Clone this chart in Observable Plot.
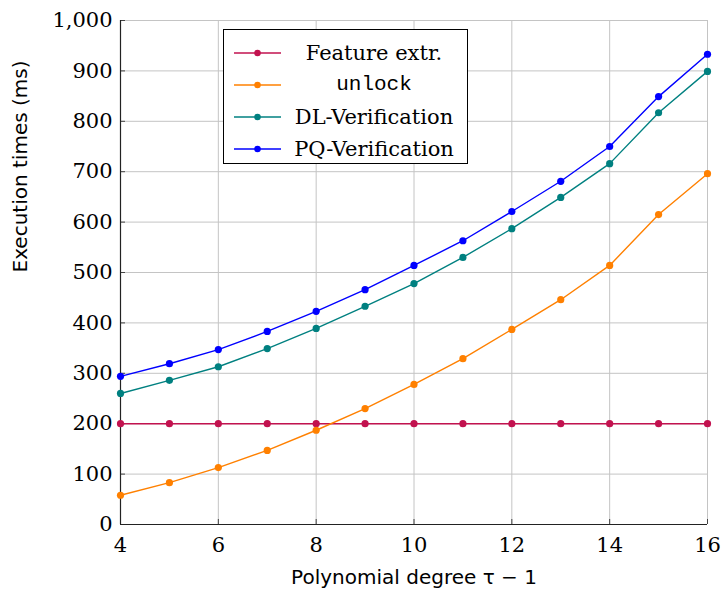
<!DOCTYPE html>
<html><head><meta charset="utf-8">
<script src="https://cdn.jsdelivr.net/npm/d3@7"></script>
<script src="https://cdn.jsdelivr.net/npm/@observablehq/plot@0.6"></script>
<style>
body{margin:0;background:#fff}
#wrap{position:relative;width:724px;height:598px}
#legend{position:absolute;left:223px;top:29px;width:245px;height:135px;border:1.3px solid #000;background:#fff;box-sizing:border-box}
.row{position:absolute;left:0;width:100%;height:0}
.row svg{position:absolute;left:9px;top:-6px}
.row span{position:absolute;left:64px;width:172px;text-align:center;top:-14px;line-height:28px;font-family:"DejaVu Serif";font-size:21px;color:#000;white-space:nowrap}
.row span.mono{font-family:"Liberation Mono";font-size:21px}
</style></head>
<body><div id="wrap"><div id="chart"></div><div id="legend"></div></div>
<script>
const degrees = [4, 5, 6, 7, 8, 9, 10, 11, 12, 13, 14, 15, 16];
const featureExtr = [200, 200, 200, 200, 200, 200, 200, 200, 200, 200, 200, 200, 200];
const unlock = [58, 83, 113, 147, 187, 230, 278, 329, 387, 446, 514, 615, 696];
const dlVerification = [260, 286, 313, 349, 389, 433, 478, 530, 587, 649, 716, 817, 899];
const pqVerification = [294, 319, 347, 383, 423, 466, 514, 563, 621, 681, 750, 849, 933];
const seriesNames = ["Feature extr.", "unlock", "DL-Verification", "PQ-Verification"];
const seriesColors = ["#c2124f", "#ff8000", "#008080", "#0000ff"];
const xTicks = [4, 6, 8, 10, 12, 14, 16];
const yTicks = [0, 100, 200, 300, 400, 500, 600, 700, 800, 900, 1000];
const xLabel = "Polynomial degree τ − 1";
const yLabel = "Execution times (ms)";

const seriesValues = [featureExtr, unlock, dlVerification, pqVerification];
const rows = seriesNames.flatMap((s, i) => degrees.map((d, j) => ({series: s, degree: d, value: seriesValues[i][j]})));

const chart = Plot.plot({
  width: 724, height: 598,
  marginLeft: 120, marginRight: 17, marginTop: 20, marginBottom: 74,
  x: {domain: [4, 16]},
  y: {domain: [0, 1000]},
  color: {domain: seriesNames, range: seriesColors},
  style: {fontFamily: "DejaVu Serif", fontSize: "21px", color: "#000", background: "#fff", overflow: "visible"},
  marks: [
    Plot.gridX(xTicks, {stroke: "#c4c4c4", strokeOpacity: 1, strokeWidth: 1}),
    Plot.gridY(yTicks, {stroke: "#c4c4c4", strokeOpacity: 1, strokeWidth: 1}),
    Plot.axisX(xTicks, {tickSize: 0, tickPadding: 13, label: null, tickFormat: d => String(d), fill: "#000"}),
    Plot.axisY(yTicks, {tickSize: 0, tickPadding: 8, label: null, tickFormat: d3.format(","), fill: "#000"}),
    Plot.axisX(xTicks, {tickSize: -5, tickPadding: 0, label: null, tickFormat: () => "", stroke: "#444"}),
    Plot.axisY(yTicks, {tickSize: -5, tickPadding: 0, label: null, tickFormat: () => "", stroke: "#444"}),
    Plot.ruleX([4], {stroke: "#222", strokeWidth: 1.2}),
    Plot.ruleY([0], {stroke: "#222", strokeWidth: 1.2}),
    Plot.line(rows, {x: "degree", y: "value", stroke: "series", strokeWidth: 1.4}),
    Plot.dot(rows, {x: "degree", y: "value", fill: "series", r: 3.6}),
    Plot.text([xLabel], {frameAnchor: "bottom", dy: 59, fontFamily: "DejaVu Sans", fontSize: 20, fill: "#000"}),
    Plot.text([yLabel], {frameAnchor: "left", rotate: -90, dx: -100, fontFamily: "DejaVu Sans", fontSize: 20, fill: "#000"})
  ]
});
document.getElementById("chart").append(chart);

const legend = document.getElementById("legend");
seriesNames.forEach((name, i) => {
  const row = document.createElement("div");
  row.className = "row";
  row.style.top = (22.5 + i * 32.3) + "px";
  row.innerHTML = `<svg width="50" height="12"><line x1="1" y1="6" x2="48" y2="6" stroke="${seriesColors[i]}" stroke-width="1.4"/><circle cx="24.5" cy="6" r="3.3" fill="${seriesColors[i]}"/></svg><span class="${name === "unlock" ? "mono" : ""}">${name}</span>`;
  legend.append(row);
});
</script>
</body></html>
